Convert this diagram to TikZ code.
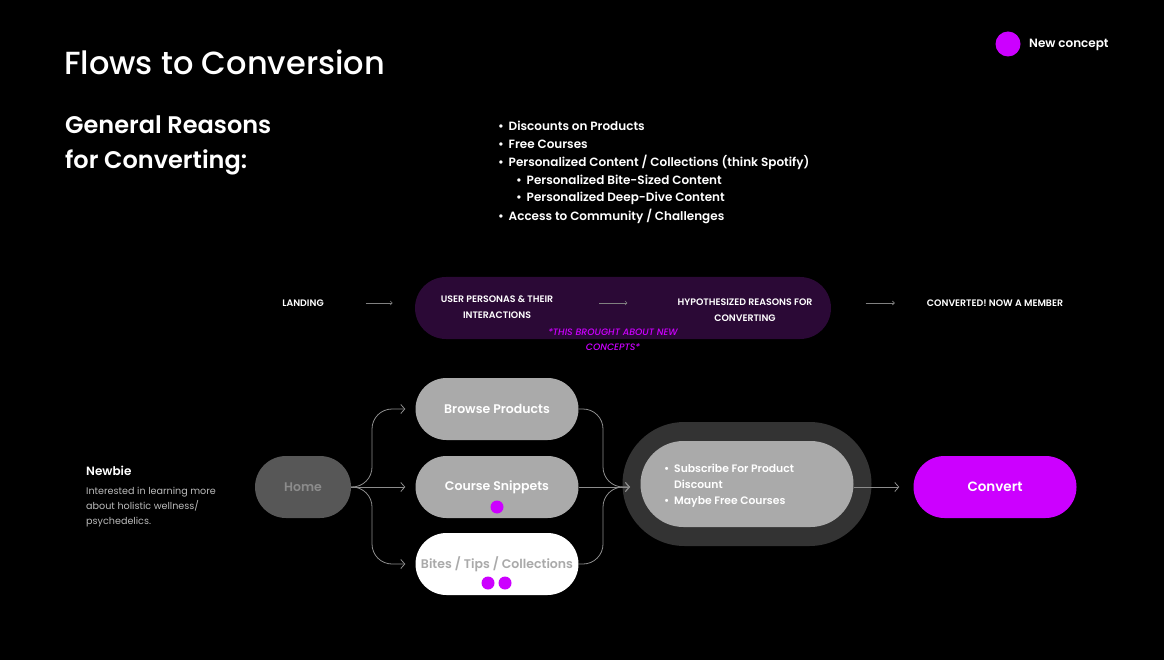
\documentclass[tikz,border=0pt]{standalone}
\usepackage{fontspec}
\setmainfont{Poppins}[BoldFont={Poppins SemiBold}]
\newfontfamily\mediumfont{Poppins Medium}
\usepackage{tikz}
\usetikzlibrary{positioning}
\usetikzlibrary{arrows.meta}
\usepackage{xcolor}
\definecolor{newmag}{HTML}{CC00FF}
\definecolor{plum}{HTML}{2B0936}
\definecolor{ringgray}{HTML}{333333}
\definecolor{pillgray}{HTML}{AAAAAA}
\definecolor{homegray}{HTML}{575757}
\definecolor{lightgray}{HTML}{BBBBBB}
\newcommand{\bul}[1][10.5pt]{\makebox[#1][l]{•}}

\begin{document}
\begin{tikzpicture}[x=1pt,y=-1pt,
  pill/.style={rounded corners=31pt, minimum width=163pt, minimum height=62pt, inner sep=0pt, text=white, font=\bfseries\fontsize{12.5}{15}\selectfont},
  toplabel/.style={inner sep=0pt, align=center, text=white, font=\bfseries\fontsize{9.4}{16}\selectfont},
  reason/.style={anchor=west, inner sep=0pt, text=white, font=\bfseries\fontsize{12}{15}\selectfont},
  flow/.style={-{Straight Barb[length=4pt,width=9pt]}, draw=gray!90, line width=0.8pt},
  thinflow/.style={-{Straight Barb[length=2pt,width=4pt]}, draw=gray, line width=0.6pt}]

\fill[black] (0,0) rectangle (1164,660);
\useasboundingbox (0,0) rectangle (1164,660);

% headings
\node[anchor=west, inner sep=0pt, text=white, font=\mediumfont\fontsize{32}{36}\selectfont] (title) at (64,62) {Flows to Conversion};
\node[anchor=west, inner sep=0pt, align=left, text=white, font=\bfseries\fontsize{24}{35}\selectfont] (general) at (65,145) {General Reasons\\for Converting:};

% reasons
\node[reason] (r1) at (498,126) {\bul Discounts on Products};
\node[reason] (r2) at (498,144) {\bul Free Courses};
\node[reason] (r3) at (498,162) {\bul Personalized Content / Collections (think Spotify)};
\node[reason] (r4) at (516,180) {\bul Personalized Bite-Sized Content};
\node[reason] (r5) at (516,198) {\bul Personalized Deep-Dive Content};
\node[reason] (r6) at (498,216) {\bul Access to Community / Challenges};

% legend
\fill[newmag] (1008,44) circle [radius=12.5];
\node[anchor=west, inner sep=0pt, text=white, font=\bfseries\fontsize{12}{15}\selectfont] (legend) at (1029,45) {New concept};

% journey row
\node[rounded corners=31pt, minimum width=416pt, minimum height=62pt, fill=plum] (journey) at (623,308) {};
\node[toplabel] (landing) at (303,303) {LANDING};
\node[toplabel] (personas) at (497,307) {USER PERSONAS \& THEIR\\INTERACTIONS};
\node[toplabel] (reasons) at (745,310) {HYPOTHESIZED REASONS FOR\\CONVERTING};
\node[toplabel] (member) at (995,303) {CONVERTED! NOW A MEMBER};
\node[toplabel, text=newmag, font=\mediumfont\itshape\fontsize{9.3}{15}\selectfont] (note) at (613,340) {*THIS BROUGHT ABOUT NEW\\CONCEPTS*};

\draw[thinflow, shorten <=42pt, shorten >=48pt] (landing.east) -- (personas.west |- landing.east);
\draw[thinflow, shorten <=46pt, shorten >=50pt] (personas.east |- landing.east) -- (reasons.west |- landing.east);
\draw[thinflow, shorten <=53pt, shorten >=32pt] (reasons.east |- landing.east) -- (member.west);

% persona
\node[anchor=west, inner sep=0pt, text=white, font=\bfseries\fontsize{12}{15}\selectfont] (newbie) at (86,471) {Newbie};
\node[anchor=north west, inner sep=0pt, align=left, text=lightgray, font=\fontsize{9.6}{15}\selectfont] (about) at (86,487) {Interested in learning more\\about holistic wellness/\\psychedelics.};

% flow nodes
\node[pill, minimum width=96pt, fill=homegray, text=gray!90] (home) at (303,487) {Home};
\node[pill, fill=pillgray] (browse) at (497,409) {Browse Products};
\node[pill, fill=pillgray] (snip) at (497,487) {Course Snippets};
\node[pill, fill=white, text=pillgray] (bites) at (497,564) {Bites / Tips / Collections};

\fill[newmag] (497,507) circle [radius=6.5];
\fill[newmag] (488,583) circle [radius=6.5];
\fill[newmag] (505,583) circle [radius=6.5];

\node[rounded corners=62pt, minimum width=249pt, minimum height=124pt, fill=ringgray] (ring) at (747,484) {};
\node[rounded corners=43pt, minimum width=213pt, minimum height=86pt, fill=pillgray] (offer) at (747,484) {};
\node[anchor=west, inner sep=0pt, align=left, text=white, font=\bfseries\fontsize{10.8}{16}\selectfont] (offertxt) at (664,486) {\bul[10pt]Subscribe For Product\\\hspace*{10pt}Discount\\\bul[10pt]Maybe Free Courses};

\node[pill, fill=newmag, font=\bfseries\fontsize{13.5}{16}\selectfont] (convert) at (995,487) {Convert};

\coordinate (split) at (372,487);
\coordinate (merge) at (603,487);
\coordinate (hubin) at (630,487);

% connectors
\draw[flow, rounded corners=20pt, shorten >=10pt] (home.east) -| (split |- browse.west) -- (browse.west);
\draw[flow, shorten >=10pt] (home.east) -- (snip.west);
\draw[flow, rounded corners=20pt, shorten >=10pt] (home.east) -| (split |- bites.west) -- (bites.west);

\draw[flow, rounded corners=20pt] (browse.east) -| (merge) -- (hubin);
\draw[flow] (snip.east) -- (hubin);
\draw[flow, rounded corners=20pt] (bites.east) -| (merge) -- (hubin);

\draw[flow, shorten >=14pt] (offer.east |- convert.west) -- (convert.west);

\end{tikzpicture}
\end{document}
